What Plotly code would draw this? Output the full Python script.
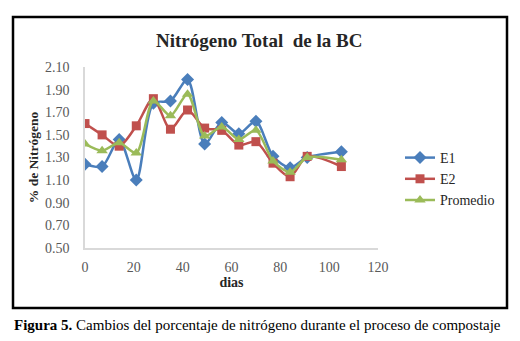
import plotly.graph_objects as go

dias = [0, 7, 14, 21, 28, 35, 42, 49, 56, 63, 70, 77, 84, 91, 105]
e1 = [1.24, 1.22, 1.46, 1.10, 1.78, 1.80, 1.99, 1.42, 1.61, 1.51, 1.62, 1.31, 1.21, 1.30, 1.35]
e2 = [1.60, 1.50, 1.40, 1.58, 1.82, 1.55, 1.72, 1.56, 1.54, 1.41, 1.44, 1.25, 1.13, 1.31, 1.22]
promedio = [1.42, 1.36, 1.43, 1.34, 1.80, 1.67, 1.86, 1.49, 1.57, 1.46, 1.54, 1.27, 1.17, 1.30, 1.28]

series = [
    ("E1", e1, "#4a7ebb", "diamond", 10),
    ("E2", e2, "#c0504d", "square", 9),
    ("Promedio", promedio, "#9bbb59", "triangle-up", 10),
]

FONT = "Liberation Serif, Times New Roman, DejaVu Serif, serif"
fig = go.Figure()
for name, ys, col, sym, sz in series:
    fig.add_trace(go.Scatter(
        x=dias, y=ys, name=name, mode="lines+markers",
        line=dict(color=col, width=2.5, shape="spline", smoothing=0.8),
        marker=dict(symbol=sym, size=sz, color=col),
    ))

W, H = 520, 341
L, R, T, B = 85, 378, 67, 248
pw, ph = R - L, B - T

def px(x):
    return (x - L) / pw

def py(y):
    return (B - y) / ph

fig.update_layout(
    width=W, height=H,
    margin=dict(l=L, r=W - R, t=T, b=H - B, autoexpand=False),
    paper_bgcolor="white", plot_bgcolor="white",
    font=dict(family=FONT, size=14, color="#404040"),
    showlegend=True,
    legend=dict(x=px(400), y=py(142), xanchor="left", yanchor="top",
                font=dict(family=FONT, size=14, color="#262626"),
                bgcolor="rgba(0,0,0,0)", tracegroupgap=0, itemwidth=30),
    xaxis=dict(range=[0, 120], dtick=20, tick0=0, showgrid=False, zeroline=False,
               showline=True, linecolor="#d9d9d9", linewidth=1.5, ticks="",
               automargin=False,
               tickfont=dict(family=FONT, size=14, color="#595959"),
               ticklabelstandoff=5,
               title=dict(text="<b>dias</b>", font=dict(family=FONT, size=14, color="#262626"), standoff=4)),
    yaxis=dict(range=[0.5, 2.1], dtick=0.2, tick0=0.5, tickformat=".2f", showgrid=False,
               zeroline=False, showline=True, linecolor="#d9d9d9", linewidth=1.5, ticks="",
               automargin=False,
               tickfont=dict(family=FONT, size=14, color="#595959"),
               ticklabelstandoff=11,
               title=dict(text="<b>% de Nitrógeno</b>", font=dict(family=FONT, size=13.5, color="#262626"), standoff=3)),
    shapes=[dict(type="rect", xref="paper", yref="paper",
                 x0=px(13), x1=px(507), y0=py(308), y1=py(17),
                 line=dict(color="black", width=2.5), layer="below")],
    annotations=[
        dict(text="<b>Nitrógeno Total  de la BC</b>", xref="paper", yref="paper",
             x=px(258.5), y=py(40), xanchor="center", yanchor="middle", showarrow=False,
             font=dict(family=FONT, size=19, color="#262626")),
        dict(text="<b>Figura 5.</b> Cambios del porcentaje de nitrógeno durante el proceso de compostaje",
             xref="paper", yref="paper", x=px(12), y=py(325), xanchor="left", yanchor="middle",
             showarrow=False, font=dict(family=FONT, size=15, color="black")),
    ],
)

fig.write_html("out.html", config={"displayModeBar": False},
               post_script="document.body.style.margin='0px';")
